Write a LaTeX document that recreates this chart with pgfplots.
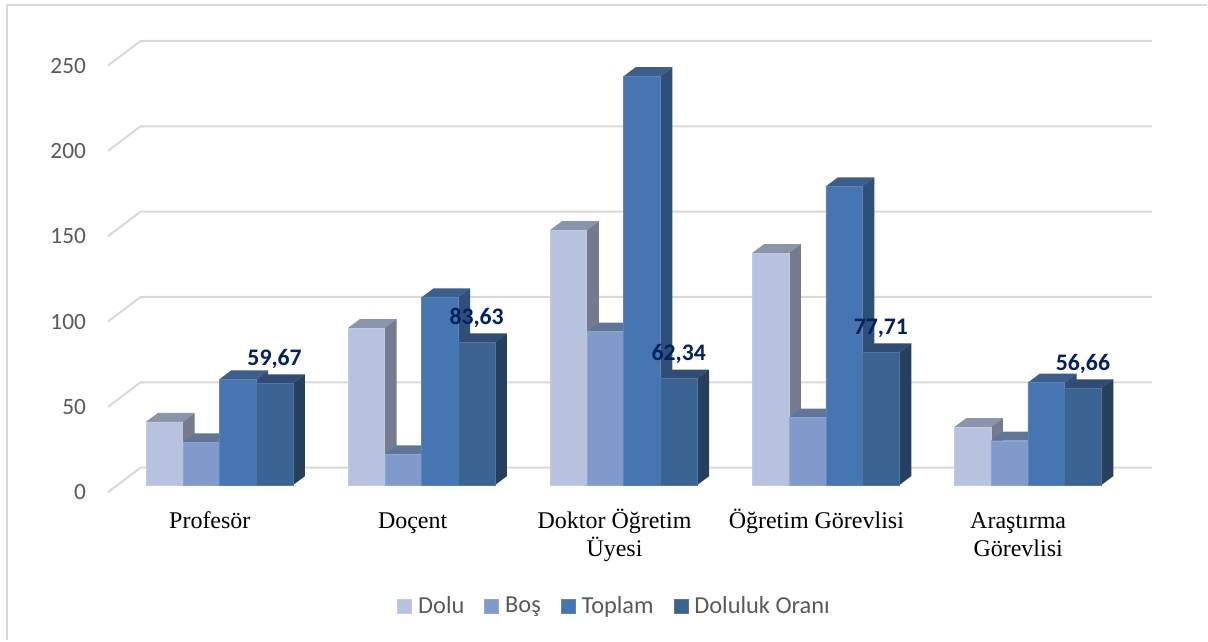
\documentclass[border=0pt]{standalone}
\usepackage{fontspec}
\setmainfont{Carlito}
\newfontfamily\catfont{Liberation Serif}
\usepackage{pgfplots}
\pgfplotsset{compat=1.18}
\definecolor{wallc}{HTML}{D9D9D9}
\definecolor{tickc}{HTML}{595959}
\definecolor{valc}{HTML}{002060}
\definecolor{aF}{HTML}{B7C3DE}\definecolor{aT}{HTML}{8A95AB}\definecolor{aS}{HTML}{757B8E}
\definecolor{bF}{HTML}{7F9ACB}\definecolor{bT}{HTML}{5F7699}\definecolor{bS}{HTML}{566A8A}
\definecolor{cF}{HTML}{4676B2}\definecolor{cT}{HTML}{3A5F8D}\definecolor{cS}{HTML}{2F4E78}
\definecolor{dF}{HTML}{3B6392}\definecolor{dT}{HTML}{2F4D74}\definecolor{dS}{HTML}{263F5E}
% side and top faces of one bar: centre x, value, top colour, side colour
\newcommand{\faces}[4]{%
  \pgfmathsetmacro{\xa}{#1-18.4}\pgfmathsetmacro{\xb}{#1+18.4}%
  \pgfmathsetmacro{\xc}{#1+30.4}\pgfmathsetmacro{\xd}{#1-6.4}%
  \pgfmathsetmacro{\yt}{#2+5.27}%
  \addplot[forget plot,draw=none,fill=#3] coordinates {(\xa,#2) (\xb,#2) (\xc,\yt) (\xd,\yt)} -- cycle;
  \addplot[forget plot,draw=none,fill=#4] coordinates {(\xb,0) (\xb,#2) (\xc,\yt) (\xc,5.27)} -- cycle;
}
% first line of a category label, with a fixed height so that all baselines agree
\newcommand{\catline}[1]{\rule{0pt}{14pt}\smash{#1}}
\pgfplotsset{front/.style={ybar,bar width=27.4pt,bar shift=0pt,draw=#1!88!white,line width=.35pt,fill=#1},
  wall/.style={forget plot,draw=wallc,line width=1.5pt,line join=miter,sharp plot}}
\begin{document}
\begin{tikzpicture}
\begin{axis}[
  scale only axis,width=906pt,height=480.75pt,
  xmin=0,xmax=1208,ymin=-91.04,ymax=284.25,clip=false,
  axis line style={draw=none},tick style={draw=none},major tick length=0pt,
  ytick={0,50,100,150,200,250},
  yticklabel style={font=\fontsize{17.5}{21}\selectfont,text=tickc,anchor=east,xshift=68pt,yshift=-5.4pt,
    /pgf/number format/assume math mode=true},
  xtick={210,413,615,817,1019},
  xticklabels={\catline{Profesör},\catline{Doçent},{\catline{Doktor Öğretim}\\Üyesi},\catline{Öğretim Görevlisi},{\catline{Araştırma}\\Görevlisi}},
  xticklabel style={font=\catfont\fontsize{18}{21}\selectfont,text=black,align=center,anchor=north,yshift=101.75pt},
  legend style={at={(axis cs:615.5,-70.7)},anchor=center,draw=none,fill=none,legend columns=4,
    font=\fontsize{18.3}{21}\selectfont,text=tickc,
    /tikz/every even column/.append style={column sep=13pt},
    /tikz/every odd column/.append style={column sep=2.7pt}},
  legend image code/.code={\fill[#1] (0pt,-5.25pt) rectangle (10.5pt,5.25pt);},
  legend cell align=left,
]
% chart frame (top and left edges)
\addplot[wall] coordinates {(1208,281.3) (7,281.3) (7,-91.04)};
% walls
\addplot[wall] coordinates {(108,-4.2) (140.7,10.25) (1153,10.25)};
\addplot[wall] coordinates {(108,45.8) (140.7,60.25) (1153,60.25)};
\addplot[wall] coordinates {(108,95.8) (140.7,110.25) (1153,110.25)};
\addplot[wall] coordinates {(108,145.8) (140.7,160.25) (1153,160.25)};
\addplot[wall] coordinates {(108,195.8) (140.7,210.25) (1153,210.25)};
\addplot[wall] coordinates {(108,245.8) (140.7,260.25) (1153,260.25)};
% Dolu
\faces{164.4}{37}{aT}{aS}\faces{366.6}{92}{aT}{aS}\faces{568.9}{149.4}{aT}{aS}\faces{771.2}{136}{aT}{aS}\faces{973.4}{34}{aT}{aS}
\addplot[front=aF] coordinates {(164.4,37) (366.6,92) (568.9,149.4) (771.2,136) (973.4,34)};
\addlegendentry{Dolu}
% Boş
\faces{201.2}{25}{bT}{bS}\faces{403.4}{18}{bT}{bS}\faces{605.7}{90}{bT}{bS}\faces{808}{39.5}{bT}{bS}\faces{1010.2}{26}{bT}{bS}
\addplot[front=bF] coordinates {(201.2,25) (403.4,18) (605.7,90) (808,39.5) (1010.2,26)};
\addlegendentry{Boş}
% Toplam
\faces{238}{62}{cT}{cS}\faces{440.2}{110}{cT}{cS}\faces{642.5}{239.6}{cT}{cS}\faces{844.8}{175}{cT}{cS}\faces{1047}{60}{cT}{cS}
\addplot[front=cF] coordinates {(238,62) (440.2,110) (642.5,239.6) (844.8,175) (1047,60)};
\addlegendentry{Toplam}
% Doluluk Oranı
\faces{274.8}{59.67}{dT}{dS}\faces{477}{83.63}{dT}{dS}\faces{679.3}{62.34}{dT}{dS}\faces{881.6}{77.71}{dT}{dS}\faces{1083.8}{56.66}{dT}{dS}
\addplot[front=dF,
  nodes near coords={\pgfmathprintnumber[fixed,fixed zerofill,precision=2,use comma,assume math mode=true]{\pgfplotspointmeta}},
  every node near coord/.append style={font=\bfseries\fontsize{17.8}{21}\selectfont,text=valc,anchor=center,yshift=18.2pt}]
  coordinates {(274.8,59.67) (477,83.63) (679.3,62.34) (881.6,77.71) (1083.8,56.66)};
\addlegendentry{Doluluk Oranı}
\end{axis}
\end{tikzpicture}
\end{document}
